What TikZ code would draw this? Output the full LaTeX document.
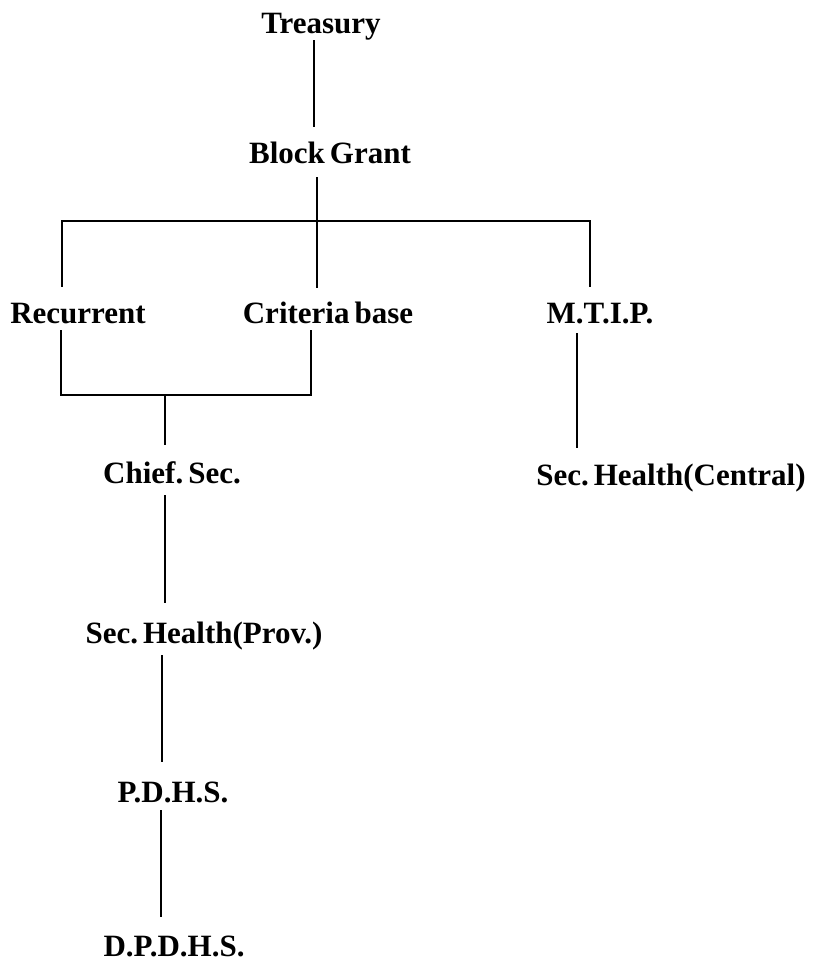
\documentclass[tikz,border=0pt]{standalone}
\usepackage{fontspec}
\setmainfont{Liberation Serif}
\newcommand\orglabelfont{\fontsize{31}{31}\selectfont\bfseries\frenchspacing
  \spaceskip=5pt plus 1pt\relax\xspaceskip=5pt plus 1pt\relax}
\begin{document}
\begin{tikzpicture}[x=1pt,y=-1pt,
  lbl/.style={anchor=base,inner sep=0pt,text height=22pt,text depth=4pt,
              execute at begin node=\orglabelfont},
  link/.style={line width=1.6pt,line cap=butt}]
\useasboundingbox (0,0) rectangle (812,964);

% labels (placed on their baselines)
\node[lbl] (treasury)  at (321,33)  {Treasury};
\node[lbl] (block)     at (330,163) {Block Grant};
\node[lbl] (recurrent) at (78,323)  {Recurrent};
\node[lbl] (criteria)  at (328,323) {Criteria base};
\node[lbl] (mtip)      at (600,323) {M.T.I.P.};
\node[lbl] (chief)     at (172,483) {Chief. Sec.};
\node[lbl] (central)   at (671,485) {Sec. Health(Central)};
\node[lbl] (provh)     at (204,643) {Sec. Health(Prov.)};
\node[lbl] (pdhs)      at (173,802) {P.D.H.S.};
\node[lbl] (dpdhs)     at (174,956) {D.P.D.H.S.};

% Treasury -> Block Grant
\draw[link] ([shift={(-7,3)}]treasury.south) -- ([shift={(-16,-14)}]block.north);
% Block Grant -> Criteria base (through the bar)
\draw[link] ([shift={(-13,10)}]block.south) -- ([shift={(-11,-13)}]criteria.north);
% upper bar: Recurrent ... M.T.I.P.
\draw[link] ([shift={(-16,-14)}]recurrent.north) |- ([shift={(-10,-80)}]mtip.north)
            -- ([shift={(-10,-14)}]mtip.north);
% lower bar joining Recurrent and Criteria base
\draw[link] ([shift={(-17,3)}]recurrent.south) |- ([shift={(-17,68)}]criteria.south)
            -- ([shift={(-17,3)}]criteria.south);
% lower bar -> Chief. Sec.
\draw[link] ([shift={(-7,-16)}]chief.north) -- ++(0,-50);
% Chief. Sec. -> Sec. Health(Prov.)
\draw[link] ([shift={(-7,8)}]chief.south) -- ([shift={(-39,-18)}]provh.north);
% M.T.I.P. -> Sec. Health(Central)
\draw[link] ([shift={(-23,6)}]mtip.south) -- ([shift={(-94,-15)}]central.north);
% Sec. Health(Prov.) -> P.D.H.S.
\draw[link] ([shift={(-42,8)}]provh.south) -- ([shift={(-11,-18)}]pdhs.north);
% P.D.H.S. -> D.P.D.H.S.
\draw[link] ([shift={(-12,4)}]pdhs.south) -- ([shift={(-13,-17)}]dpdhs.north);
\end{tikzpicture}
\end{document}
